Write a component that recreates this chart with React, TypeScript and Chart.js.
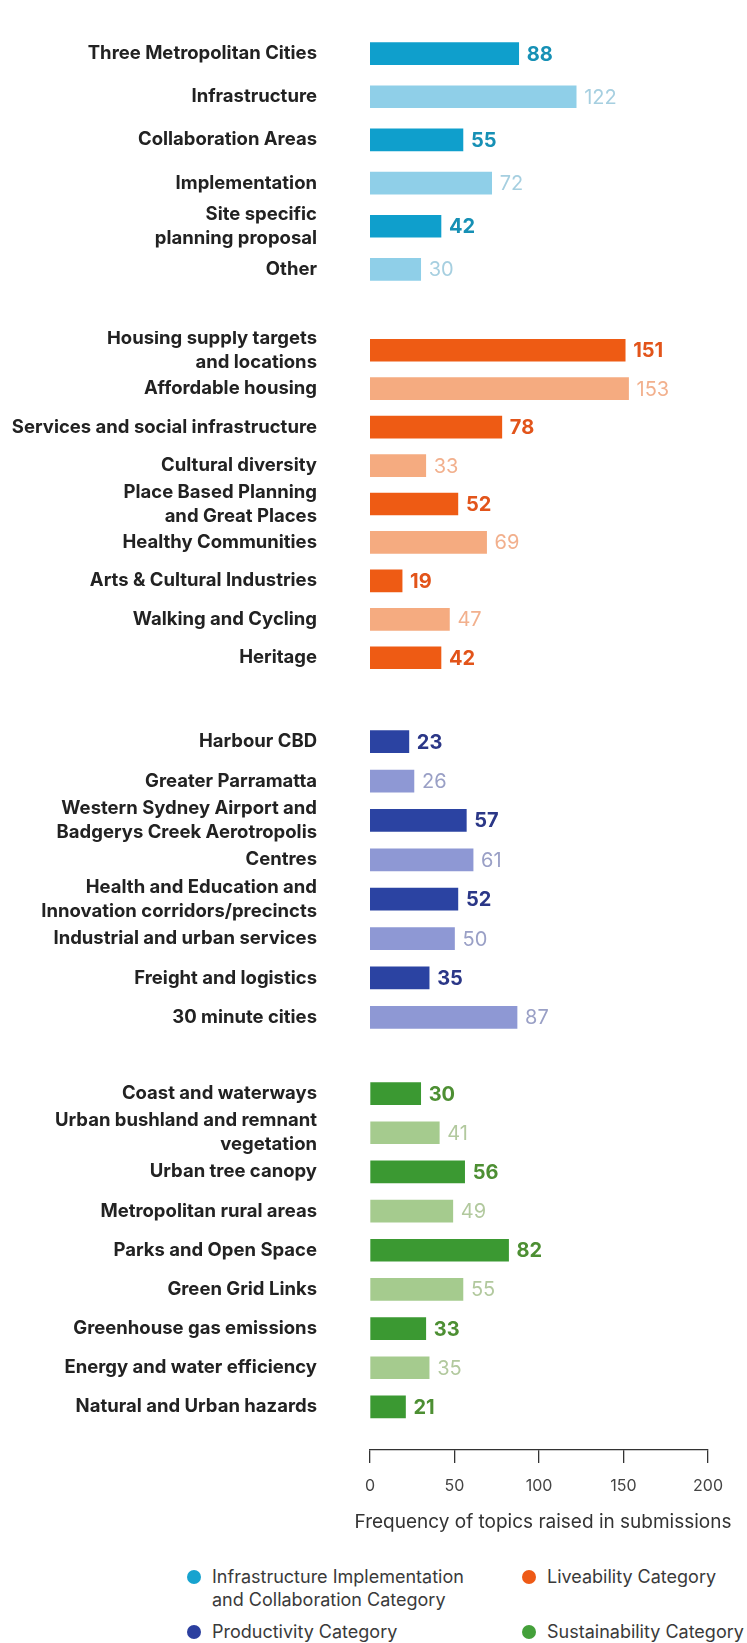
import React, { useEffect, useRef } from "react";
import { Chart, registerables } from "chart.js";

Chart.register(...registerables);

const FONT = "Inter, Roboto, 'Noto Sans', 'DejaVu Sans', sans-serif";

// ---------- DATA ----------
const infraLabels: (string | string[])[] = [
  "Three Metropolitan Cities",
  "Infrastructure",
  "Collaboration Areas",
  "Implementation",
  ["Site specific", "planning proposal"],
  "Other",
];
const infraValues = [88, 122, 55, 72, 42, 30];

const liveLabels: (string | string[])[] = [
  ["Housing supply targets", "and locations"],
  "Affordable housing",
  "Services and social infrastructure",
  "Cultural diversity",
  ["Place Based Planning", "and Great Places"],
  "Healthy Communities",
  "Arts & Cultural Industries",
  "Walking and Cycling",
  "Heritage",
];
const liveValues = [151, 153, 78, 33, 52, 69, 19, 47, 42];

const prodLabels: (string | string[])[] = [
  "Harbour CBD",
  "Greater Parramatta",
  ["Western Sydney Airport and", "Badgerys Creek Aerotropolis"],
  "Centres",
  ["Health and Education and", "Innovation corridors/precincts"],
  "Industrial and urban services",
  "Freight and logistics",
  "30 minute cities",
];
const prodValues = [23, 26, 57, 61, 52, 50, 35, 87];

const sustLabels: (string | string[])[] = [
  "Coast and waterways",
  ["Urban bushland and remnant", "vegetation"],
  "Urban tree canopy",
  "Metropolitan rural areas",
  "Parks and Open Space",
  "Green Grid Links",
  "Greenhouse gas emissions",
  "Energy and water efficiency",
  "Natural and Urban hazards",
];
const sustValues = [30, 41, 56, 49, 82, 55, 33, 35, 21];

const axisTicks = [0, 50, 100, 150, 200];
const axisTitle = "Frequency of topics raised in submissions";

const legendNames: string[][] = [
  ["Infrastructure Implementation", "and Collaboration Category"],
  ["Liveability Category"],
  ["Productivity Category"],
  ["Sustainability Category"],
];

// ---------- STYLES ----------
const infraStyle = { dark: "#0f9fcc", light: "#8fcfe8", darkText: "#1690b5", lightText: "#a6cfe0" };
const liveStyle = { dark: "#ee5b14", light: "#f5ab80", darkText: "#e2541a", lightText: "#f2b08d" };
const prodStyle = { dark: "#2b43a2", light: "#8e98d4", darkText: "#2b3787", lightText: "#9aa0c6" };
const sustStyle = { dark: "#3b9932", light: "#a5cb8e", darkText: "#4d8f33", lightText: "#b2c99e" };
const legendColors = ["#17a3cf", "#ee5a16", "#2b3f9f", "#44a03a"];

type PanelStyle = typeof infraStyle;

const zeroPad = () => ({ left: 0, top: 0, right: 0, bottom: 0 });

const valueLabelPlugin = {
  id: "valueLabels",
  afterDatasetsDraw(chart: any, _args: any, opts: any) {
    const ctx = chart.ctx;
    const meta = chart.getDatasetMeta(0);
    const ds = chart.data.datasets[0];
    meta.data.forEach((bar: any, i: number) => {
      const v = ds.data[i].x;
      const dark = i % 2 === 0;
      ctx.save();
      ctx.font = `${dark ? "bold" : "normal"} 20px ${FONT}`;
      ctx.fillStyle = dark ? opts.darkText : opts.lightText;
      ctx.textBaseline = "middle";
      ctx.textAlign = "left";
      ctx.fillText(String(v), bar.x + 8, bar.y + 1);
      ctx.restore();
    });
  },
};

function BarPanel(props: {
  labels: (string | string[])[];
  values: number[];
  style: PanelStyle;
  top: number;
  height: number;
  showAxis?: boolean;
  extraRows?: number;
}) {
  const { labels, values, style, top, height, showAxis = false, extraRows = 0 } = props;
  const ref = useRef<HTMLCanvasElement | null>(null);

  useEffect(() => {
    if (!ref.current) return;
    const data = values.map((v, i) => ({ x: v, y: i }));
    const chart = new Chart(ref.current, {
      type: "bar",
      data: {
        datasets: [
          {
            data: data as any,
            backgroundColor: values.map((_, i) => (i % 2 === 0 ? style.dark : style.light)),
            borderWidth: 0,
            barThickness: 22,
          },
        ],
      },
      plugins: [valueLabelPlugin as any],
      options: {
        responsive: false,
        animation: false,
        indexAxis: "y",
        layout: { padding: { left: 0, right: 39, top: 0, bottom: 0 } },
        plugins: {
          legend: { display: false },
          tooltip: { enabled: false },
          valueLabels: { darkText: style.darkText, lightText: style.lightText },
        } as any,
        scales: {
          x: {
            type: "linear",
            display: showAxis,
            min: 0,
            max: 200,
            afterBuildTicks: (scale: any) => {
              scale.ticks = axisTicks.map((v) => ({ value: v }));
            },
            afterFit: (scale: any) => {
              if (showAxis) scale.height = 100;
              scale.paddingTop = 0;
              scale.paddingBottom = 0;
            },
            grid: {
              display: true,
              drawOnChartArea: false,
              drawTicks: true,
              tickLength: 13,
              color: "#333",
              lineWidth: 1.3,
            },
            border: { display: true, color: "#333", width: 1.3 },
            ticks: {
              padding: 14,
              color: "#444",
              font: { family: FONT, size: 16 },
              maxRotation: 0,
            },
            title: { display: false },
          },
          y: {
            type: "linear",
            reverse: true,
            offset: false,
            bounds: "data",
            min: -0.5,
            max: labels.length - 0.5 + extraRows,
            afterBuildTicks: (scale: any) => {
              scale.ticks = labels.map((_, i) => ({ value: i }));
            },
            afterFit: (scale: any) => {
              scale.width = 370;
              scale.paddingTop = 0;
              scale.paddingBottom = 0;
              scale.getPadding = zeroPad;
            },
            grid: { display: false, offset: false },
            border: { display: false },
            ticks: {
              autoSkip: false,
              padding: 45,
              color: "#222",
              font: { family: FONT, size: 18.5, weight: "bold", lineHeight: 1.3 },
              callback: (v: any) => labels[Math.round(Number(v))] as any,
            },
          },
        },
      } as any,
    });
    return () => chart.destroy();
  }, []);

  return (
    <canvas
      ref={ref}
      width={747}
      height={height}
      style={{ position: "absolute", left: 0, top, width: 747, height, display: "block" }}
    />
  );
}

export default function App() {
  return (
    <div
      style={{
        position: "absolute",
        left: 0,
        top: 0,
        width: 747,
        height: 1643,
        background: "#fff",
        overflow: "hidden",
        fontFamily: FONT,
      }}
    >
      <BarPanel labels={infraLabels} values={infraValues} style={infraStyle} top={32} height={259} />
      <BarPanel labels={liveLabels} values={liveValues} style={liveStyle} top={331} height={346} />
      <BarPanel labels={prodLabels} values={prodValues} style={prodStyle} top={722} height={315} />
      <BarPanel
        labels={sustLabels}
        values={sustValues}
        style={sustStyle}
        top={1074}
        height={476}
        showAxis
        extraRows={0.6}
      />
      <div
        style={{
          position: "absolute",
          left: 343,
          width: 400,
          top: 1509,
          textAlign: "center",
          color: "#333",
          fontSize: 19,
          lineHeight: "26px",
          whiteSpace: "nowrap",
        }}
      >
        {axisTitle}
      </div>
      {legendNames.map((lines, i) => {
        const col = i % 2;
        const row = Math.floor(i / 2);
        return (
          <div
            key={i}
            style={{
              position: "absolute",
              left: col === 0 ? 187 : 522,
              top: row === 0 ? 1565 : 1620,
              display: "flex",
              alignItems: "flex-start",
              color: "#3a3a3a",
              fontSize: 18,
              lineHeight: "23px",
            }}
          >
            <span
              style={{
                display: "inline-block",
                width: 14,
                height: 14,
                borderRadius: 7,
                background: legendColors[i],
                marginTop: 5,
                marginRight: 11,
                flex: "none",
              }}
            />
            <span>
              {lines.map((l, j) => (
                <div key={j}>{l}</div>
              ))}
            </span>
          </div>
        );
      })}
    </div>
  );
}
